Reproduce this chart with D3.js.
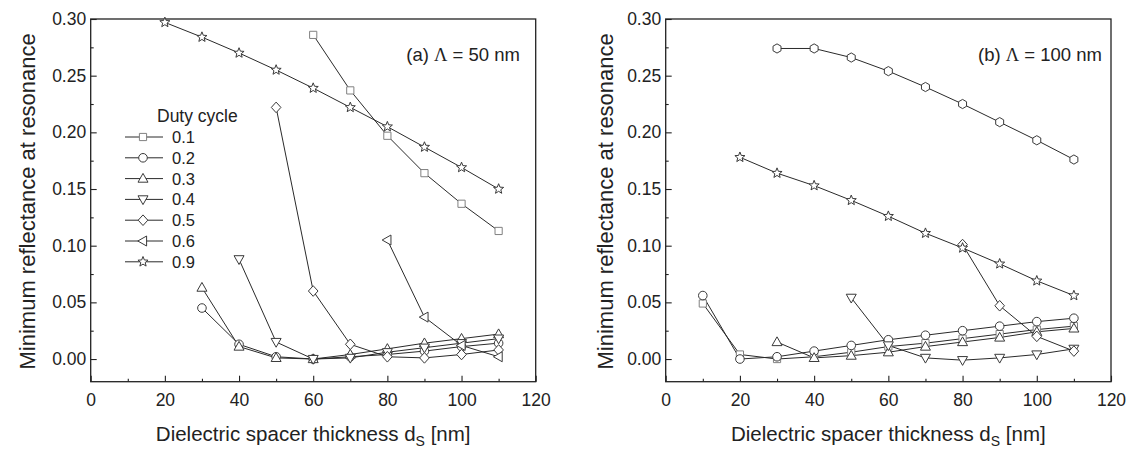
<!DOCTYPE html>
<html>
<head>
<meta charset="utf-8">
<script src="https://cdn.jsdelivr.net/npm/d3@7"></script>
<style>
  body { margin: 0; background: #fff; }
  text { font-family: "Liberation Sans", Arial, sans-serif; fill: #222; }
</style>
</head>
<body>
<div id="container"></div>
<script>
/* DATA */
const dutyCycles = ["0.1", "0.2", "0.3", "0.4", "0.5", "0.6", "0.9"];
const xTicks = [0, 20, 40, 60, 80, 100, 120];
const yTicks = [0, 0.05, 0.10, 0.15, 0.20, 0.25, 0.30];

// panel (a) Lambda = 50 nm
const aDs01 = [60, 70, 80, 90, 100, 110];
const aR01  = [0.286, 0.237, 0.197, 0.164, 0.137, 0.113];
const aDs02 = [30, 40, 50, 60, 70, 80, 90, 100, 110];
const aR02  = [0.045, 0.013, 0.002, 0.000, 0.002, 0.004, 0.007, 0.011, 0.014];
const aDs03 = [30, 40, 50, 60, 70, 80, 90, 100, 110];
const aR03  = [0.063, 0.011, 0.001, 0.000, 0.004, 0.009, 0.014, 0.018, 0.022];
const aDs04 = [40, 50, 60, 70, 80, 90, 100, 110];
const aR04  = [0.088, 0.015, 0.000, 0.001, 0.006, 0.010, 0.014, 0.018];
const aDs05 = [50, 60, 70, 80, 90, 100, 110];
const aR05  = [0.222, 0.060, 0.013, 0.002, 0.001, 0.004, 0.008];
const aDs06 = [80, 90, 100, 110];
const aR06  = [0.105, 0.037, 0.012, 0.002];
const aDs09 = [20, 30, 40, 50, 60, 70, 80, 90, 100, 110];
const aR09  = [0.297, 0.284, 0.270, 0.255, 0.239, 0.222, 0.205, 0.187, 0.169, 0.150];

// panel (b) Lambda = 100 nm
const bDs01 = [10, 20, 30, 40, 50, 60, 70, 80, 90, 100, 110];
const bR01  = [0.049, 0.004, 0.000, 0.002, 0.006, 0.011, 0.014, 0.018, 0.022, 0.026, 0.029];
const bDs02 = [10, 20, 30, 40, 50, 60, 70, 80, 90, 100, 110];
const bR02  = [0.056, 0.000, 0.002, 0.007, 0.012, 0.017, 0.021, 0.025, 0.029, 0.033, 0.036];
const bDs03 = [30, 40, 50, 60, 70, 80, 90, 100, 110];
const bR03  = [0.015, 0.001, 0.003, 0.006, 0.011, 0.015, 0.019, 0.024, 0.027];
const bDs04 = [50, 60, 70, 80, 90, 100, 110];
const bR04  = [0.054, 0.012, 0.001, -0.001, 0.001, 0.004, 0.009];
const bDs05 = [80, 90, 100, 110];
const bR05  = [0.101, 0.047, 0.020, 0.007];
const bDs08 = [30, 40, 50, 60, 70, 80, 90, 100, 110];
const bR08  = [0.274, 0.274, 0.266, 0.254, 0.240, 0.225, 0.209, 0.193, 0.176];
const bDs09 = [20, 30, 40, 50, 60, 70, 80, 90, 100, 110];
const bR09  = [0.178, 0.164, 0.153, 0.140, 0.126, 0.111, 0.098, 0.084, 0.069, 0.056];

/* CONSTANTS */
const width = 1132, height = 449;
const plotTop = 19, plotBottom = 381.7;

const zip = (xs, ys) => xs.map((x, i) => ({ x, y: ys[i] }));

const seriesA = [
  { sym: "square", pts: zip(aDs01, aR01) },
  { sym: "circle", pts: zip(aDs02, aR02) },
  { sym: "up", pts: zip(aDs03, aR03) },
  { sym: "down", pts: zip(aDs04, aR04) },
  { sym: "diamond", pts: zip(aDs05, aR05) },
  { sym: "left", pts: zip(aDs06, aR06) },
  { sym: "star", pts: zip(aDs09, aR09) }
];
const seriesB = [
  { sym: "square", pts: zip(bDs01, bR01) },
  { sym: "circle", pts: zip(bDs02, bR02) },
  { sym: "up", pts: zip(bDs03, bR03) },
  { sym: "down", pts: zip(bDs04, bR04) },
  { sym: "diamond", pts: zip(bDs05, bR05) },
  { sym: "hex", pts: zip(bDs08, bR08) },
  { sym: "star", pts: zip(bDs09, bR09) }
];
const legendSyms = ["square", "circle", "up", "down", "diamond", "left", "star"];

// marker outlines, centred on 0,0
function polyPath(pts) {
  return "M" + pts.map(p => p[0].toFixed(2) + "," + p[1].toFixed(2)).join("L") + "Z";
}
function markerPath(sym) {
  switch (sym) {
    case "square": return polyPath([[-3.6, -3.6], [3.6, -3.6], [3.6, 3.6], [-3.6, 3.6]]);
    case "circle": return d3.symbol(d3.symbolCircle, Math.PI * 4.3 * 4.3)();
    case "up": return polyPath([[0, -5.2], [5, 3.6], [-5, 3.6]]);
    case "down": return polyPath([[0, 5.2], [5, -3.6], [-5, -3.6]]);
    case "diamond": return polyPath([[0, -5.3], [4.8, 0], [0, 5.3], [-4.8, 0]]);
    case "left": return polyPath([[-5.2, 0], [3.6, -5], [3.6, 5]]);
    case "hex": return polyPath(d3.range(6).map(i => {
      const a = Math.PI / 3 * i;
      return [4.6 * Math.sin(a), -4.6 * Math.cos(a)];
    }));
    case "star": return polyPath(d3.range(10).map(i => {
      const a = Math.PI / 5 * i, r = i % 2 ? 2.3 : 5.3;
      return [r * Math.sin(a), -r * Math.cos(a)];
    }));
  }
}
const markerStroke = sym => sym === "square" ? "#808080" : "#3a3a3a";

const svg = d3.select("#container")
  .append("svg")
  .attr("width", width)
  .attr("height", height)
  .style("background", "#fff");

function drawPanel(left, right, series, title, labelX) {
  const xScale = d3.scaleLinear().domain([0, 120]).range([left, right]);
  const yScale = d3.scaleLinear().domain([-0.02, 0.30]).range([plotBottom, plotTop]);
  const g = svg.append("g");

  // minor ticks
  g.append("g")
    .attr("transform", `translate(0,${plotBottom})`)
    .call(d3.axisBottom(xScale).tickValues(d3.range(10, 120, 20)).tickSizeInner(-3).tickSizeOuter(0).tickFormat(""))
    .call(a => a.select(".domain").remove());
  g.append("g")
    .attr("transform", `translate(${left},0)`)
    .call(d3.axisLeft(yScale).tickValues([0.025, 0.075, 0.125, 0.175, 0.225, 0.275]).tickSizeInner(-3).tickSizeOuter(0).tickFormat(""))
    .call(a => a.select(".domain").remove());

  // major ticks + labels
  const xAxisG = g.append("g")
    .attr("transform", `translate(0,${plotBottom})`)
    .call(d3.axisBottom(xScale).tickValues(xTicks).tickSizeInner(-6).tickSizeOuter(0).tickPadding(11.5));
  const yAxisG = g.append("g")
    .attr("transform", `translate(${left},0)`)
    .call(d3.axisLeft(yScale).tickValues(yTicks).tickFormat(d3.format(".2f")).tickSizeInner(-6).tickSizeOuter(0).tickPadding(4.5));
  [xAxisG, yAxisG].forEach(a => {
    a.select(".domain").remove();
    a.selectAll("text").attr("font-size", 17.5).attr("font-family", null).attr("fill", "#222");
  });
  g.selectAll(".tick line").attr("stroke", "#222").attr("stroke-width", 1.1);

  // frame
  g.append("rect")
    .attr("x", left).attr("y", plotTop)
    .attr("width", right - left).attr("height", plotBottom - plotTop)
    .attr("fill", "none").attr("stroke", "#222").attr("stroke-width", 1.3);

  // lines
  const line = d3.line().x(d => xScale(d.x)).y(d => yScale(d.y));
  g.append("g").selectAll("path")
    .data(series)
    .join("path")
    .attr("d", d => line(d.pts))
    .attr("fill", "none")
    .attr("stroke", "#2a2a2a")
    .attr("stroke-width", 1);

  // markers
  series.forEach(s => {
    g.append("g").selectAll("path")
      .data(s.pts)
      .join("path")
      .attr("transform", d => `translate(${xScale(d.x)},${yScale(d.y)})`)
      .attr("d", markerPath(s.sym))
      .attr("fill", "#fff")
      .attr("stroke", markerStroke(s.sym))
      .attr("stroke-width", 1);
  });

  // panel title
  const t = g.append("text")
    .attr("x", title.x).attr("y", 61)
    .attr("text-anchor", "end")
    .attr("font-size", 18.5);
  t.append("tspan").text(title.pre);
  t.append("tspan").attr("font-family", "'Liberation Serif', 'Times New Roman', serif").text("Λ");
  t.append("tspan").text(title.post);

  // axis titles
  const xl = g.append("text")
    .attr("x", (left + right) / 2).attr("y", 441)
    .attr("text-anchor", "middle")
    .attr("font-size", 20.5);
  xl.append("tspan").text("Dielectric spacer thickness d");
  xl.append("tspan").attr("font-size", 14).attr("dy", 5).text("S");
  xl.append("tspan").attr("dy", -5).text(" [nm]");

  g.append("text")
    .attr("transform", `translate(${labelX},${(plotTop + plotBottom) / 2 + 1}) rotate(-90)`)
    .attr("text-anchor", "middle")
    .attr("font-size", 22)
    .text("Minimum reflectance at resonance");

  return { xScale, yScale };
}

drawPanel(90.7, 535.7, seriesA, { x: 520, pre: "(a) ", post: " = 50 nm" }, 35);
drawPanel(665.7, 1111, seriesB, { x: 1102, pre: "(b) ", post: " = 100 nm" }, 613);

// legend in panel (a)
const legend = svg.append("g");
legend.append("text")
  .attr("x", 157).attr("y", 122)
  .attr("font-size", 17.5)
  .text("Duty cycle");
const rows = legend.selectAll("g.row")
  .data(dutyCycles)
  .join("g")
  .attr("class", "row")
  .attr("transform", (d, i) => `translate(0,${137 + i * 20.8})`);
rows.append("line")
  .attr("x1", 125).attr("x2", 163)
  .attr("stroke", "#2a2a2a").attr("stroke-width", 1);
rows.append("path")
  .attr("transform", "translate(143,0)")
  .attr("d", (d, i) => markerPath(legendSyms[i]))
  .attr("fill", "#fff")
  .attr("stroke", (d, i) => markerStroke(legendSyms[i]));
rows.append("text")
  .attr("x", 172).attr("y", 6)
  .attr("font-size", 16.5)
  .text(d => d);
</script>
</body>
</html>
